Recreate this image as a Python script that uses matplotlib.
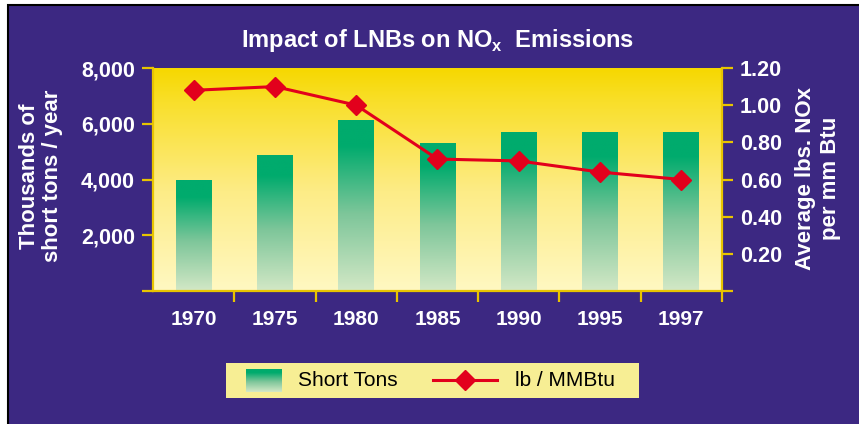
import numpy as np
import matplotlib
matplotlib.use("Agg")
import matplotlib.pyplot as plt
from matplotlib.colors import LinearSegmentedColormap
from matplotlib.patches import Rectangle

# data
years = ["1970", "1975", "1980", "1985", "1990", "1995", "1997"]
short_tons = [3950, 4850, 6120, 5280, 5680, 5680, 5680]
lb_per_mmbtu = [1.08, 1.10, 1.00, 0.71, 0.70, 0.64, 0.60]
left_ticks = [0, 2000, 4000, 6000, 8000]
left_labels = ["", "2,000", "4,000", "6,000", "8,000"]
right_ticks = [0, 0.2, 0.4, 0.6, 0.8, 1.0, 1.2]
right_labels = ["", "0.20", "0.40", "0.60", "0.80", "1.00", "1.20"]

purple = "#3c2882"
gold = "#e8c400"
red = "#e2001c"
W, H = 859, 424

plt.rcParams["font.family"] = ["Liberation Sans", "DejaVu Sans"]

fig = plt.figure(figsize=(W / 100, H / 100), dpi=100, facecolor="white")

# purple panel with black frame
fig.patches.append(Rectangle((7.5 / W, -0.01), (W - 7.5) / W + 0.01, (H - 4.5) / H + 0.01,
                             transform=fig.transFigure, facecolor=purple,
                             edgecolor="black", linewidth=1.5, zorder=-5))

ax = fig.add_axes([153 / W, 1 - 291 / H, (722 - 153) / W, (291 - 68) / H])
x = np.arange(len(years))

# yellow gradient background
bg = LinearSegmentedColormap.from_list("bg", [(0, "#fff8c2"), (0.45, "#fdec86"),
                                              (0.85, "#f9df2a"), (1, "#f6d800")])
ax.imshow(np.linspace(0, 1, 256).reshape(-1, 1), cmap=bg, origin="lower",
          extent=[-0.5, len(years) - 0.5, 0, 8000], aspect="auto", zorder=0)

# bars with green gradient
green = LinearSegmentedColormap.from_list("gr", [(0, "#d3e8c6"), (0.45, "#7ec69a"),
                                                (0.85, "#00ab6d"), (1, "#00ab6d")])
bars = ax.bar(x, short_tons, width=0.44, color="none", zorder=2)
for b in bars:
    ax.imshow(np.linspace(0, 1, 256).reshape(-1, 1), cmap=green, origin="lower",
              extent=[b.get_x(), b.get_x() + b.get_width(), 0, b.get_height()],
              aspect="auto", zorder=2)
ax.set_xlim(-0.5, len(years) - 0.5)
ax.set_ylim(0, 8000)

ax2 = ax.twinx()
ax2.set_ylim(0, 1.2)
ax2.plot(x, lb_per_mmbtu, color=red, lw=2.2, marker="D", ms=10, zorder=5)

ytick_font = dict(fontsize=15.5, fontweight="bold", color="white")
xtick_font = dict(fontsize=15, fontweight="bold", color="white")
ax.set_yticks(left_ticks)
ax.set_yticklabels(left_labels, **ytick_font)
ax2.set_yticks(right_ticks)
ax2.set_yticklabels(right_labels, **ytick_font)
ax.set_xticks(x)
ax.set_xticklabels(years, **xtick_font)
ax.set_xticks(np.arange(len(years)) + 0.5, minor=True)
ax.tick_params(axis="x", which="major", length=0, pad=14)
ax.tick_params(axis="x", which="minor", length=8, width=1.6, color=gold, direction="out")
ax.tick_params(axis="y", length=8, width=1.6, color=gold, pad=5)
ax2.tick_params(axis="y", length=8, width=1.6, color=gold, pad=5)

for a in (ax, ax2):
    for s in a.spines.values():
        s.set_visible(False)
ax.spines["left"].set_visible(True)
ax.spines["bottom"].set_visible(True)
ax2.spines["right"].set_visible(True)
for s in (ax.spines["left"], ax.spines["bottom"], ax2.spines["right"]):
    s.set_color(gold)
    s.set_linewidth(1.6)

# title
fig.text(438 / W, 1 - 40 / H, r"Impact of LNBs on NO$_{\mathregular{x}}$  Emissions",
         fontsize=17, fontweight="bold", color="white", ha="center", va="center")

# axis labels
fig.text(41 / W, 1 - 176 / H, "Thousands of\nshort tons / year", rotation=90,
         fontsize=16, fontweight="bold", color="white", ha="center", va="center",
         linespacing=1.15)
fig.text(818 / W, 1 - 178 / H, "Average lbs. NOx\nper mm Btu", rotation=90,
         fontsize=16, fontweight="bold", color="white", ha="center", va="center",
         linespacing=1.2)

# legend
lg = fig.add_axes([226 / W, 1 - 398 / H, 413 / W, 35 / H])
lg.set_facecolor("#f7ee94")
lg.set_xticks([])
lg.set_yticks([])
for s in lg.spines.values():
    s.set_visible(False)
lg.imshow(np.linspace(0, 1, 64).reshape(-1, 1), cmap=green, origin="lower",
          extent=[20, 56, 6, 29], aspect="auto")
lg.set_xlim(0, 413)
lg.set_ylim(0, 35)
lg.text(72, 17.5, "Short Tons", fontsize=15, color="black", va="center")
lg.plot([207, 271], [18, 18], color=red, lw=2.2)
lg.plot([239], [18], color=red, marker="D", ms=10)
lg.text(289, 17.5, "lb / MMBtu", fontsize=15, color="black", va="center")

fig.savefig("out.png", dpi=100, facecolor="white")
